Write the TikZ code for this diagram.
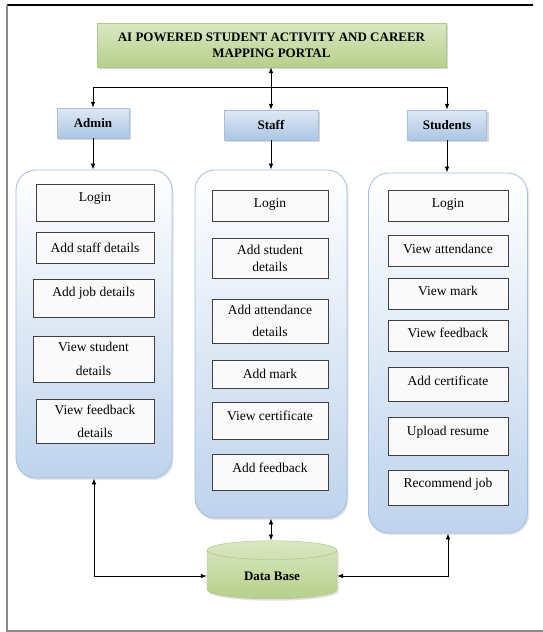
\documentclass[tikz,border=0pt]{standalone}
\usepackage{fontspec}
\setmainfont{Liberation Serif}
\usepackage{tikz}
\usetikzlibrary{arrows.meta,shapes.geometric,shadows}
\definecolor{titlegreenA}{RGB}{218,232,194}
\definecolor{titlegreenB}{RGB}{182,208,138}
\definecolor{headblueA}{RGB}{222,232,244}
\definecolor{headblueB}{RGB}{172,198,228}
\definecolor{panelblue}{RGB}{190,211,236}
\definecolor{paneledge}{RGB}{160,190,224}
\definecolor{itemfill}{RGB}{250,250,250}
\definecolor{itemedge}{RGB}{64,64,64}
\tikzset{
  titlebox/.style={draw=titlegreenB!90!gray, top color=titlegreenA, bottom color=titlegreenB,
    drop shadow={shadow xshift=2pt, shadow yshift=-2pt, fill=black!30},
    font=\fontsize{13}{16}\selectfont\bfseries, align=center},
  headbox/.style={draw=headblueB!90!gray, top color=headblueA, bottom color=headblueB,
    drop shadow={shadow xshift=2pt, shadow yshift=-2pt, fill=black!30},
    font=\fontsize{13}{15}\selectfont\bfseries, minimum height=30pt},
  panel/.style={draw=paneledge, line width=0.8pt, rounded corners=20pt,
    top color=white, bottom color=panelblue,
    drop shadow={shadow xshift=1.5pt, shadow yshift=-2pt, fill=black!20}},
  item/.style={draw=itemedge, fill=itemfill, line width=0.6pt, inner sep=1pt,
    font=\fontsize{13.5}{15}\selectfont, align=center},
  raised/.style={text height=10pt, text depth=#1},
  database/.style={shape=cylinder, shape border rotate=90, aspect=0.3,
    draw=titlegreenB!80!gray, top color=titlegreenA, bottom color=titlegreenB,
    drop shadow={shadow xshift=1.5pt, shadow yshift=-2pt, fill=black!25},
    minimum width=130pt, minimum height=58pt,
    font=\fontsize{13}{15}\selectfont\bfseries}
}
\begin{document}
\begin{tikzpicture}[x=1pt,y=-1pt]
		\useasboundingbox (0,0) rectangle (543,632);
		% frame
		\draw[line width=1.2pt] (7,5) -- (533,5);
		\draw[black!45, line width=1.5pt] (7,5) -- (7,631) -- (543,631);
		%
		\node[titlebox, minimum width=349pt, minimum height=44pt] (portal) at (271.5,45)
			{AI POWERED STUDENT ACTIVITY AND CAREER\\MAPPING PORTAL};
		\node[headbox, minimum width=72pt] (admin) at (93,123) {Admin};
		\node[headbox, minimum width=94pt] (staff) at (271,125) {Staff};
		\node[headbox, minimum width=79pt] (students) at (447,125) {Students};
		\coordinate (bus) at (271,87);
		%
		\node[panel, minimum width=156pt, minimum height=308pt] (adminpanel) at (94,324) {};
		\node[panel, minimum width=152pt, minimum height=348pt] (staffpanel) at (271,344) {};
		\node[panel, minimum width=159pt, minimum height=360pt] (studentpanel) at (448,353) {};
		%
		\node[item, raised=12pt, minimum width=118pt, minimum height=37pt] (A1) at (95,202.5) {Login};
		\node[item, minimum width=118pt, minimum height=31pt] (A2) at (95,247.5) {Add staff details};
		\node[item, raised=14pt, minimum width=121pt, minimum height=38pt] (A3) at (93.5,298) {Add job details};
		\node[item, minimum width=121pt, minimum height=46pt] (A4) at (93.5,359) {View student\\[9pt]details};
		\node[item, minimum width=118pt, minimum height=44pt] (A5) at (95,421) {View feedback\\[8pt]details};
		%
		\node[item, raised=6pt, minimum width=116pt, minimum height=31pt] (S1) at (270,205.5) {Login};
		\node[item, minimum width=116pt, minimum height=40pt] (S2) at (270,258) {Add student\\[2pt]details};
		\node[item, minimum width=116pt, minimum height=44pt] (S3) at (270,321) {Add attendance\\[7pt]details};
		\node[item, minimum width=116pt, minimum height=28pt] (S4) at (270,374) {Add mark};
		\node[item, raised=10pt, minimum width=116pt, minimum height=37pt] (S5) at (270,420.5) {View certificate};
		\node[item, raised=10pt, minimum width=116pt, minimum height=36pt] (S6) at (270,472) {Add feedback};
		%
		\node[item, raised=6pt, minimum width=120pt, minimum height=31pt] (T1) at (448,205.5) {Login};
		\node[item, raised=4pt, minimum width=120pt, minimum height=31pt] (T2) at (448,250.5) {View attendance};
		\node[item, raised=6pt, minimum width=120pt, minimum height=31pt] (T3) at (448,293.5) {View mark};
		\node[item, raised=6pt, minimum width=120pt, minimum height=31pt] (T4) at (448,335.5) {View feedback};
		\node[item, raised=8pt, minimum width=120pt, minimum height=34pt] (T5) at (448,384) {Add certificate};
		\node[item, raised=12pt, minimum width=120pt, minimum height=38pt] (T6) at (448,436) {Upload resume};
		\node[item, raised=10pt, minimum width=120pt, minimum height=35pt] (T7) at (448,487.5) {Recommend job};
		%
		\node[database] (db) at (272,576) {Data Base};
		%
		\path[->,line width=0.8pt,>={Latex[length=6pt,width=4.5pt]}]
		(bus) edge[-] (staff.north |- bus)
		(admin.south) edge (admin.south |- adminpanel.north)
		(staff.south) edge (staffpanel.north)
		(students.south) edge (students.south |- studentpanel.north);
		\draw[<->,line width=0.8pt,>={Latex[length=6pt,width=4.5pt]}] (staff.north) -- (staff.north |- portal.south);
		\draw[->,line width=0.8pt,>={Latex[length=6pt,width=4.5pt]}] (bus) -| (admin.north);
		\draw[->,line width=0.8pt,>={Latex[length=6pt,width=4.5pt]}] (bus) -| (students.north);
		\draw[<->,line width=0.8pt,>={Latex[length=6pt,width=4.5pt]}] (staffpanel.south) -- (staffpanel.south |- db.north);
		\draw[<->,line width=0.8pt,>={Latex[length=6pt,width=4.5pt]}] (adminpanel.south) |- (db.west);
		\draw[<->,line width=0.8pt,>={Latex[length=6pt,width=4.5pt]}] (studentpanel.south) |- (db.east);
		\end{tikzpicture}
\end{document}
